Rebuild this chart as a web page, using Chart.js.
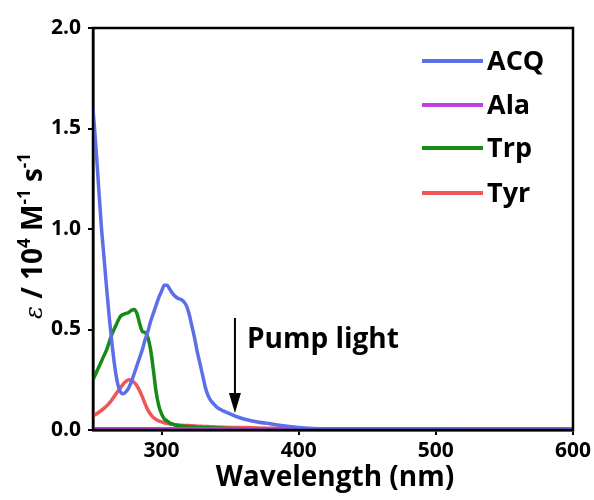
<!DOCTYPE html>
<html>
<head>
<meta charset="utf-8">
<script src="https://cdn.jsdelivr.net/npm/chart.js@4.4.1/dist/chart.umd.min.js"></script>
<style>
  html, body { margin: 0; padding: 0; background: #ffffff; }
  #wrap { width: 594px; height: 500px; position: relative; }
</style>
</head>
<body>
<div id="wrap"><canvas id="c" width="594" height="500"></canvas></div>
<script>
// ---- data ----
const wavelengths = [250,252,254,256,258,260,262,264,266,268,270,272,274,276,278,280,282,284,286,288,290,292,294,296,298,300,302,304,306,308,310,312,314,316,318,320,322,324,326,328,330,332,334,336,338,340,345,350,355,360,370,380,390,400,410,420,440,460,500,550,600];

const acqValues = [1.60,1.42,1.22,1.02,0.86,0.70,0.55,0.42,0.31,0.23,0.19,0.18,0.19,0.21,0.24,0.28,0.32,0.36,0.40,0.45,0.49,0.54,0.58,0.62,0.66,0.69,0.72,0.72,0.70,0.68,0.665,0.655,0.65,0.64,0.62,0.58,0.52,0.46,0.39,0.33,0.27,0.21,0.17,0.145,0.13,0.115,0.095,0.08,0.066,0.055,0.04,0.03,0.02,0.013,0.008,0.004,0.002,0.001,0.001,0,0];

const alaValues = [0.006,0.006,0.006,0.006,0.006,0.006,0.006,0.006,0.006,0.006,0.006,0.006,0.006,0.006,0.006,0.006,0.006,0.006,0.006,0.006,0.006,0.006,0.006,0.006,0.006,0.006,0.006,0.006,0.006,0.006,0.006,0.006,0.006,0.006,0.006,0.006,0.006,0.006,0.006,0.006,0.006,0.006,0.006,0.006,0.006,0.006,0.006,0.006,0.006,0.006,0.006,0.006,0.006,0.006,0.006,0.006,0.006,0.006,0.006,0.006,0.006];

const trpValues = [0.25,0.28,0.31,0.34,0.37,0.40,0.44,0.48,0.51,0.54,0.565,0.575,0.58,0.585,0.595,0.60,0.58,0.53,0.49,0.485,0.46,0.40,0.30,0.19,0.12,0.08,0.055,0.045,0.035,0.03,0.025,0.022,0.02,0.019,0.018,0.017,0.016,0.015,0.014,0.013,0.012,0.012,0.011,0.011,0.01,0.01,0.009,0.008,0.007,0.006,0.005,0.004,0.003,0.003,0.002,0.002,0.001,0.001,0.001,0,0];

const tyrValues = [0.07,0.078,0.087,0.097,0.108,0.12,0.135,0.152,0.172,0.192,0.21,0.228,0.242,0.25,0.248,0.237,0.22,0.195,0.165,0.13,0.10,0.078,0.062,0.052,0.045,0.04,0.036,0.033,0.03,0.028,0.026,0.025,0.024,0.023,0.022,0.022,0.021,0.02,0.019,0.019,0.018,0.018,0.017,0.016,0.016,0.015,0.014,0.013,0.012,0.012,0.01,0.009,0.008,0.007,0.006,0.005,0.004,0.003,0.002,0.002,0.002];

const seriesNames = ['ACQ','Ala','Trp','Tyr'];
const seriesColors = ['#5c6fe8','#c03fe3','#188a18','#f05656'];
const xTickValues = [300,400,500,600];
const yTickValues = [0.0,0.5,1.0,1.5,2.0];
const xTitle = 'Wavelength (nm)';
const pumpLabel = 'Pump light';
const pumpWavelength = 353.5;
const pumpArrowTop = 0.557;
const pumpArrowTip = 0.085;

const FONT = '"Open Sans", "DejaVu Sans", sans-serif';

function pts(vals) { return wavelengths.map((w, i) => ({ x: w, y: vals[i] })); }
const allValues = [acqValues, alaValues, trpValues, tyrValues];

const datasets = seriesNames.map((n, i) => ({
  label: n,
  data: pts(allValues[i]),
  borderColor: seriesColors[i],
  backgroundColor: seriesColors[i],
  borderWidth: 3.5,
  pointRadius: 0,
  cubicInterpolationMode: 'monotone',
  fill: false
}));

const framePlugin = {
  id: 'frame',
  afterDraw(chart) {
    const ctx = chart.ctx;
    const a = chart.chartArea;
    const xs = chart.scales.x, ys = chart.scales.y;
    ctx.save();
    // frame
    ctx.strokeStyle = '#000';
    ctx.lineWidth = 2.5;
    ctx.strokeRect(a.left, a.top, a.right - a.left, a.bottom - a.top);

    // legend
    ctx.font = 'bold 27px ' + FONT;
    ctx.textBaseline = 'alphabetic';
    ctx.textAlign = 'left';
    const lineYs = [61, 105, 148, 193];
    seriesNames.forEach((n, i) => {
      const y = lineYs[i];
      ctx.strokeStyle = seriesColors[i];
      ctx.lineWidth = 4;
      ctx.beginPath();
      ctx.moveTo(422, y);
      ctx.lineTo(483, y);
      ctx.stroke();
      ctx.fillStyle = '#000';
      ctx.fillText(n, 487, y + 9);
    });

    // pump light arrow
    const px = xs.getPixelForValue(pumpWavelength);
    const yTop = ys.getPixelForValue(pumpArrowTop);
    const yTip = ys.getPixelForValue(pumpArrowTip);
    ctx.strokeStyle = '#000';
    ctx.fillStyle = '#000';
    ctx.lineWidth = 2;
    ctx.beginPath();
    ctx.moveTo(px, yTop);
    ctx.lineTo(px, yTip - 15);
    ctx.stroke();
    ctx.beginPath();
    ctx.moveTo(px - 6, yTip - 20);
    ctx.lineTo(px + 6, yTip - 20);
    ctx.lineTo(px, yTip);
    ctx.closePath();
    ctx.fill();
    ctx.font = 'bold 28px ' + FONT;
    ctx.textBaseline = 'middle';
    ctx.fillText(pumpLabel, px + 12, yTop + 22);

    // x title
    ctx.font = 'bold 28px ' + FONT;
    ctx.textAlign = 'center';
    ctx.textBaseline = 'alphabetic';
    ctx.fillText(xTitle, 335, 486);

    // y title (rotated, with superscripts)
    const segs = [
      { t: 'ε', f: 'italic 24px "DejaVu Serif", serif', dy: 0 },
      { t: ' / 10', f: 'bold 28px ' + FONT, dy: 0 },
      { t: '4', f: 'bold 17px ' + FONT, dy: -12 },
      { t: ' M', f: 'bold 28px ' + FONT, dy: 0 },
      { t: '-1', f: 'bold 17px ' + FONT, dy: -12 },
      { t: ' s', f: 'bold 28px ' + FONT, dy: 0 },
      { t: '-1', f: 'bold 17px ' + FONT, dy: -12 }
    ];
    let total = 0;
    segs.forEach(s => { ctx.font = s.f; s.w = ctx.measureText(s.t).width; total += s.w; });
    ctx.translate(42, 236);
    ctx.rotate(-Math.PI / 2);
    ctx.textAlign = 'left';
    let cx = -total / 2;
    segs.forEach(s => {
      ctx.font = s.f;
      ctx.fillText(s.t, cx, s.dy);
      cx += s.w;
    });
    ctx.restore();
  }
};

new Chart(document.getElementById('c'), {
  type: 'line',
  data: { datasets },
  options: {
    responsive: false,
    animation: false,
    devicePixelRatio: 1,
    layout: { padding: { left: 0, right: 21, top: 28, bottom: 0 } },
    plugins: { legend: { display: false }, tooltip: { enabled: false } },
    scales: {
      x: {
        type: 'linear',
        min: 250, max: 600,
        afterFit(s) { s.height = 70; },
        afterBuildTicks(s) { s.ticks = xTickValues.map(v => ({ value: v })); },
        border: { display: true, color: '#000', width: 2.5 },
        grid: { display: true, drawOnChartArea: false, drawTicks: true, tickLength: 5, color: '#000', lineWidth: 2 },
        ticks: { color: '#000', padding: 3, maxRotation: 0, font: { family: FONT, size: 21, weight: 'bold' } }
      },
      y: {
        min: 0, max: 2,
        afterFit(s) { s.width = 93; },
        afterBuildTicks(s) { s.ticks = yTickValues.map(v => ({ value: v })); },
        border: { display: true, color: '#000', width: 2.5 },
        grid: { display: true, drawOnChartArea: false, drawTicks: true, tickLength: 5, color: '#000', lineWidth: 2 },
        ticks: { color: '#000', padding: 7, font: { family: FONT, size: 21, weight: 'bold' }, callback: v => Number(v).toFixed(1) }
      }
    }
  },
  plugins: [framePlugin]
});
</script>
</body>
</html>
